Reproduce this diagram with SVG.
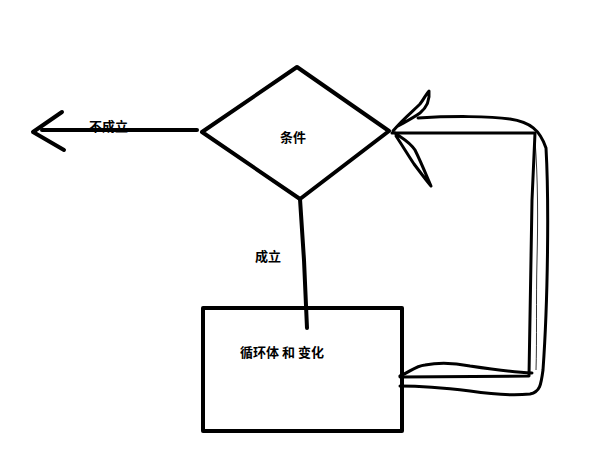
<svg xmlns="http://www.w3.org/2000/svg" width="614" height="460" viewBox="0 0 614 460">
<style>
.s{fill:none;stroke:#000;stroke-width:4;stroke-linecap:round;stroke-linejoin:round}
.h{fill:none;stroke:#000;stroke-width:3;stroke-linecap:round;stroke-linejoin:round}
.t{font-family:"Noto Sans CJK SC","Noto Sans",sans-serif;font-size:13px;font-weight:bold;fill:#000}
</style>
<rect width="614" height="460" fill="#fff"/>
<g id="connectors">
<path class="s" d="M197,130 L42,130"/>
<path class="s" d="M62,112 L33,132 L64,150"/>
<path class="s" d="M300,199 L304,260 L307,328"/>
<path class="h" d="M392,133 L535,133 L532,200 L529,376 L400,377"/>
<path class="h" d="M418,118 C450,116 490,116 510,119 C530,122 540,130 546,148 C549,200 548,300 543,370 C541,385 540,392 530,394 C510,396 490,394 470,391 C445,388 420,386 400,386"/>
<path class="h" d="M400,376 C410,372 415,366 425,365 C440,362 455,363 470,366 C490,369 510,372 532,373"/>
<path class="h" d="M393,131 C402,120 412,112 420,104 C424,99 426,94 429,91 C430,100 426,108 420,113 C413,118 405,122 398,126"/>
<path class="h" d="M395,133 C402,138 410,142 415,150 C420,160 425,172 431,186 C426,180 420,172 414,164 C408,155 402,145 396,136"/>
<path d="M535,140 C538,180 538,220 537,260 C536,300 537,340 536,370" fill="none" stroke="#000" stroke-width="0.8"/>
</g>
<g id="condition">
<path class="s" d="M202,132 L297,67 L389,131 L300,199 Z"/>
<text class="t" x="280" y="142">条件</text>
</g>
<g id="labels">
<text class="t" x="89" y="131">不成立</text>
<text class="t" x="255" y="261">成立</text>
</g>
<g id="body">
<rect class="s" x="203" y="308" width="199" height="123" stroke-linecap="butt" stroke-linejoin="miter"/>
<text class="t" x="240" y="357">循环体 和 变化</text>
</g>
</svg>
